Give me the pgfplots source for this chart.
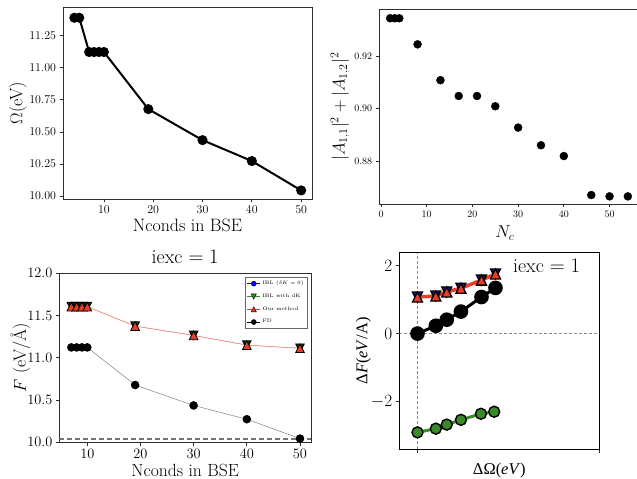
\documentclass[border=0pt]{standalone}
\usepackage{fontspec}
\usepackage{pgfplots}
\pgfplotsset{compat=1.18}
\newfontfamily\lblfont{Liberation Serif}
\definecolor{myred}{RGB}{232,62,40}
\definecolor{mygreen}{RGB}{58,138,40}
\definecolor{myframe}{RGB}{45,45,45}
\definecolor{mynavy}{RGB}{20,20,140}

\pgfdeclareplotmark{mup}{%
  \pgfpathmoveto{\pgfqpoint{0pt}{\pgfplotmarksize}}%
  \pgfpathlineto{\pgfqpoint{-\pgfplotmarksize}{-\pgfplotmarksize}}%
  \pgfpathlineto{\pgfqpoint{\pgfplotmarksize}{-\pgfplotmarksize}}%
  \pgfpathclose\pgfusepathqfillstroke}
\pgfdeclareplotmark{mdown}{%
  \pgfpathmoveto{\pgfqpoint{0pt}{-\pgfplotmarksize}}%
  \pgfpathlineto{\pgfqpoint{-\pgfplotmarksize}{\pgfplotmarksize}}%
  \pgfpathlineto{\pgfqpoint{\pgfplotmarksize}{\pgfplotmarksize}}%
  \pgfpathclose\pgfusepathqfillstroke}

\pgfplotsset{mpl/.style={scale only axis, anchor=south west,
  tick align=outside, tick pos=left, major tick length=3.5bp,
  axis line style={myframe,line width=0.8bp},
  tick style={myframe,line width=0.8bp},
  scaled ticks=false}}

\begin{document}
\begin{tikzpicture}
\useasboundingbox (0bp,0bp) rectangle (637bp,479bp);

% ---------- Panel 1 ----------
\begin{axis}[mpl, at={(63bp,280bp)}, width=249bp, height=192bp,
  xmin=1.7, xmax=52.2, ymin=9.977, ymax=11.474,
  xtick={10,20,30,40,50}, ytick={10,10.25,10.5,10.75,11,11.25},
  yticklabel style={/pgf/number format/.cd, fixed, fixed zerofill, precision=2},
  tick label style={font=\fontsize{11.7}{13}\selectfont},
  xlabel={Nconds in BSE}, ylabel={$\Omega$(eV)},
  label style={font=\fontsize{18}{20}\selectfont},
  xlabel style={at={(axis description cs:0.5,-0.135)}, anchor=center},
  ylabel style={at={(axis description cs:-0.181,0.5)}, anchor=center}]
\addplot[black, line width=2bp, mark=*, mark size=4bp] coordinates {
(4,11.39)(5,11.39)(7,11.123)(8,11.123)(9,11.123)(10,11.123)
(19,10.678)(30,10.436)(40,10.273)(50,10.044)};
\end{axis}

% ---------- Panel 2 ----------
\begin{axis}[mpl, at={(379bp,275bp)}, width=263bp, height=194.7bp,
  xmin=-0.44, xmax=57.1, ymin=0.8638, ymax=0.9377,
  xtick={0,10,20,30,40,50}, ytick={0.88,0.90,0.92},
  yticklabel style={/pgf/number format/.cd, fixed, fixed zerofill, precision=2},
  tick label style={font=\fontsize{10.3}{12}\selectfont},
  xlabel={$N_c$}, ylabel={$|A_{1,1}|^2+|A_{1,2}|^2$},
  label style={font=\fontsize{18}{20}\selectfont},
  xlabel style={at={(axis description cs:0.479,-0.15)}, anchor=center},
  ylabel style={at={(axis description cs:-0.148,0.5)}, anchor=center}]
\addplot[only marks, black, mark=*, mark size=4bp] coordinates {
(2,0.9343)(3,0.9343)(4,0.9343)(8,0.9244)(13,0.9108)(17,0.9048)(21,0.9048)
(25,0.9009)(30,0.8928)(35,0.8861)(40,0.8820)(46,0.8672)(50,0.8667)(54,0.8667)};
\end{axis}

% ---------- Panel 3 ----------
\begin{axis}[mpl, at={(59.3bp,36.7bp)}, width=251.7bp, height=169bp,
  xmin=4.74, xmax=52.07, ymin=10, ymax=12,
  xtick={10,20,30,40,50}, ytick={10,10.5,11,11.5,12},
  yticklabel style={/pgf/number format/.cd, fixed, fixed zerofill, precision=1},
  tick label style={font=\fontsize{13.5}{15}\selectfont},
  xlabel={Nconds in BSE}, ylabel={$F$ (eV/\AA)},
  title={iexc $=1$},
  title style={font=\fontsize{20}{22}\selectfont, at={(axis description cs:0.5,1.06)}, anchor=center},
  label style={font=\fontsize{17.7}{20}\selectfont},
  xlabel style={at={(axis description cs:0.5,-0.166)}, anchor=center},
  ylabel style={at={(axis description cs:-0.155,0.5)}, anchor=center},
  legend style={at={(0.985,0.976)}, anchor=north east, draw=black!60,
    font=\fontsize{5}{5.5}\selectfont, inner sep=1.5bp, row sep=3.8bp,
    cells={anchor=west}},
  legend image code/.code={\draw[mark repeat=2,mark phase=2] plot coordinates {(0bp,0bp)(6.5bp,0bp)(13bp,0bp)};}]
\addlegendimage{blue, line width=0.5bp, mark=*, mark size=2.5bp, mark options={fill=blue, draw=black, line width=0.4bp}}
\addlegendentry{IBL ($\delta K=0$)}
\addlegendimage{mygreen, line width=0.5bp, mark=mdown, mark size=2.6bp, mark options={fill=mygreen, draw=black, line width=0.4bp}}
\addlegendentry{IBL with dK}
\addlegendimage{myred, line width=0.5bp, mark=mup, mark size=2.6bp, mark options={fill=myred, draw=black, line width=0.4bp}}
\addlegendentry{Our method}
\addlegendimage{black, line width=0.5bp, mark=*, mark size=2.5bp}
\addlegendentry{FD}
\addplot[black!55, line width=1.3bp, dash pattern=on 5bp off 3bp, forget plot] coordinates {(4.74,10.04)(52.07,10.04)};
\addplot[black!50, line width=0.5bp, mark=*, mark size=4bp, mark options={black, fill=black}, forget plot] coordinates {
(7,11.123)(8,11.123)(9,11.123)(10,11.123)(19,10.678)(30,10.436)(40,10.273)(50,10.044)};
\addplot[myred!60, line width=0.5bp, mark=mdown, mark size=4.3bp, mark options={fill=black!80!green, draw=black, line width=0.8bp}, forget plot] coordinates {
(7,11.605)(8,11.605)(9,11.605)(10,11.605)(19,11.375)(30,11.265)(40,11.15)(50,11.113)};
\addplot[myred!60, line width=0.5bp, mark=mup, mark size=4.3bp, mark options={fill=myred, draw=black, line width=0.8bp}, forget plot] coordinates {
(7,11.605)(8,11.605)(9,11.605)(10,11.605)(19,11.375)(30,11.265)(40,11.15)(50,11.113)};
\end{axis}

% ---------- Panel 4 ----------
\begin{axis}[mpl, at={(399.3bp,29.7bp)}, width=200bp, height=196.6bp,
  xmin=-0.1, xmax=1.0, ymin=-3.42, ymax=2.39,
  axis line style={black,line width=1.4bp},
  xtick={0,1}, xticklabels={}, ytick={-2,0,2},
  tick label style={font=\fontsize{16.5}{18}\selectfont},
  xlabel={\lblfont ΔΩ(\textit{eV})}, ylabel={\lblfont Δ\textit{F}(\textit{eV}/A)},
  label style={font=\fontsize{16.5}{18}\selectfont},
  xlabel style={at={(axis description cs:0.5,-0.107)}, anchor=center},
  ylabel style={at={(axis description cs:-0.18,0.5)}, anchor=center}]
\addplot[black!45, line width=0.8bp, dash pattern=on 3bp off 2bp] coordinates {(0,-3.42)(0,2.39)};
\addplot[black!45, line width=0.8bp, dash pattern=on 3bp off 2bp] coordinates {(-0.1,0)(1.0,0)};
\addplot[mygreen, line width=3bp, mark=*, mark size=5.5bp, mark options={fill=mygreen, draw=black, line width=1.4bp}] coordinates {
(0,-2.92)(0.101,-2.81)(0.161,-2.69)(0.239,-2.55)(0.349,-2.37)(0.422,-2.31)};
\addplot[black, line width=3bp, mark=*, mark size=5.8bp] coordinates {
(0,0)(0.101,0.23)(0.161,0.41)(0.239,0.65)(0.352,1.08)(0.429,1.35)};
\addplot[myred, line width=3.5bp, mark=mdown, mark size=5bp, mark options={fill=mynavy, draw=black, line width=1.3bp}] coordinates {
(0,1.08)(0.101,1.11)(0.161,1.23)(0.239,1.34)(0.352,1.58)(0.429,1.76)};
\addplot[only marks, mark=mup, mark size=5bp, mark options={fill=myred, draw=black, line width=1.3bp}] coordinates {
(0,1.08)(0.101,1.11)(0.161,1.23)(0.239,1.34)(0.352,1.58)(0.429,1.76)};
\node[font=\fontsize{20}{22}\selectfont] at (axis cs:0.71,2.0) {iexc $=1$};
\end{axis}
\end{tikzpicture}
\end{document}
